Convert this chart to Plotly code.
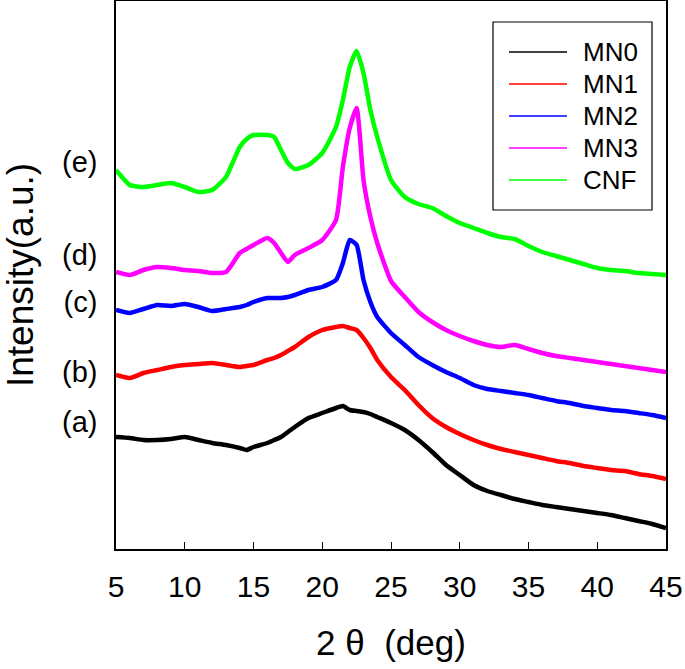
import plotly.graph_objects as go

# 2-theta positions (deg)
two_theta = [5, 6, 7, 8, 9, 10, 11, 12, 13, 14, 14.5, 15, 16, 16.5, 17, 17.5, 18, 19, 20,
             21, 21.5, 22, 22.5, 23, 23.5, 24, 25, 26, 27, 28, 29, 30, 31, 32, 33, 34, 35,
             36, 37, 38, 39, 40, 41, 42, 43, 44, 45]

# intensities (a.u., stacked)
mn0 = [112, 111, 109, 109, 110, 112, 109, 106, 104, 101, 99, 102, 106, 109, 112, 117, 122,
       131, 136, 141, 143, 139, 138, 137, 135, 132, 126, 119, 109, 97, 84, 74, 64, 58, 54,
       50, 47, 44, 42, 40, 38, 36, 34, 31, 28, 25, 21]
mn1 = [174, 171, 176, 179, 182, 184, 185, 186, 184, 182, 183, 184, 189, 191, 194, 198, 202,
       212, 219, 222, 223, 221, 219, 211, 201, 189, 172, 159, 144, 131, 122, 115, 109, 104,
       100, 97, 94, 91, 88, 86, 83, 81, 79, 78, 75, 73, 70]
mn2 = [239, 236, 240, 244, 243, 245, 242, 238, 240, 242, 244, 247, 251, 251, 251, 252, 254,
       259, 262, 269, 286, 309, 304, 269, 247, 232, 216, 204, 192, 184, 177, 171, 164, 160,
       158, 156, 154, 151, 148, 146, 143, 141, 139, 138, 136, 134, 131]
mn3 = [277, 274, 279, 282, 281, 279, 278, 276, 277, 296, 300, 304, 311, 306, 296, 287, 294,
       301, 309, 329, 382, 421, 441, 369, 332, 306, 268, 252, 237, 227, 219, 213, 208, 204,
       202, 204, 200, 196, 193, 191, 189, 187, 185, 183, 181, 179, 177]
cnf = [379, 364, 362, 364, 366, 362, 357, 359, 372, 402, 410, 414, 414, 412, 399, 386, 380,
       384, 396, 422, 449, 482, 498, 476, 439, 412, 369, 352, 345, 341, 333, 326, 321, 316,
       312, 310, 303, 297, 293, 289, 285, 281, 279, 278, 276, 275, 274]

series_names = ["MN0", "MN1", "MN2", "MN3", "CNF"]
series_colors = ["#000000", "#ff0000", "#0000ff", "#ff00ff", "#00ff00"]

# curve letters on the y axis
label_pos = [127, 177, 247, 294, 387]
label_text = ["(a)", "(b)", "(c)", "(d)", "(e)"]

FONT = "Arial, Liberation Sans, sans-serif"
W, H = 685, 669
L, R, T, B = 116, 19, 1, 120
PW, PH = W - L - R, H - T - B


def px(x):
    return (x - L) / PW


def py(y):
    return (H - B - y) / PH


fig = go.Figure()
for name, color, ys in zip(series_names, series_colors, [mn0, mn1, mn2, mn3, cnf]):
    fig.add_trace(go.Scatter(x=two_theta, y=ys, mode="lines", name=name, showlegend=False,
                             line=dict(color=color, width=4.5, shape="spline", smoothing=0.5)))

# legend box drawn by hand (long line samples like the original)
fig.add_shape(type="rect", xref="paper", yref="paper",
              x0=px(493), x1=px(652), y0=py(210), y1=py(22),
              line=dict(color="black", width=1.2), fillcolor="white", layer="above")
for i, (name, color) in enumerate(zip(series_names, series_colors)):
    yc = 52 + i * 32
    fig.add_shape(type="line", xref="paper", yref="paper",
                  x0=px(509), x1=px(567), y0=py(yc), y1=py(yc),
                  line=dict(color=color, width=1.5), layer="above")
    fig.add_annotation(xref="paper", yref="paper", x=px(581), y=py(yc),
                       xanchor="left", yanchor="middle", text=name, showarrow=False,
                       font=dict(size=26, family=FONT, color="black"))

fig.update_layout(
    width=W, height=H,
    paper_bgcolor="white", plot_bgcolor="white",
    margin=dict(l=L, r=R, t=T, b=B),
    font=dict(family=FONT, color="black", size=22),
    showlegend=False,
    xaxis=dict(
        range=[5, 45], tickvals=[5, 10, 15, 20, 25, 30, 35, 40, 45],
        ticks="inside", ticklen=7, tickcolor="black", tickwidth=1,
        showline=True, linecolor="black", linewidth=1.5, mirror=True,
        showgrid=False, zeroline=False, automargin=False,
        tickfont=dict(size=30), ticklabelstandoff=10,
        title=dict(text="2 θ  (deg)", font=dict(size=35), standoff=29),
    ),
    yaxis=dict(
        range=[0, 548], tickvals=label_pos, ticktext=label_text,
        ticks="", showline=True, linecolor="black", linewidth=1.5, mirror=True,
        showgrid=False, zeroline=False, automargin=False,
        tickfont=dict(size=29), ticklabelstandoff=11,
        title=dict(text="Intensity(a.u.)", font=dict(size=37), standoff=18),
    ),
)

# drop the page's default body margin so the figure sits at the window's corner
fig.write_html("out.html", config={"displayModeBar": False},
               post_script="document.body.style.margin='0';")
